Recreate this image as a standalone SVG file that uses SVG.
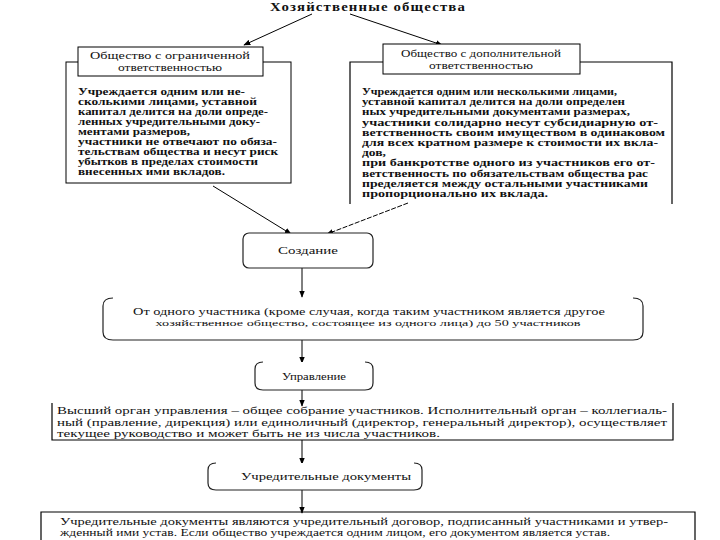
<svg xmlns="http://www.w3.org/2000/svg" width="720" height="540" viewBox="0 0 720 540">
<defs>
<marker id="ah" viewBox="0 0 10 10" refX="9" refY="5" markerWidth="7" markerHeight="7" orient="auto-start-reverse" markerUnits="userSpaceOnUse">
<path d="M0,1 L10,5 L0,9 z" fill="#000"/>
</marker>
<style>
text{font-family:"Liberation Serif","Times New Roman",serif;fill:#111}
.t{font-size:10.5px;font-weight:bold}
.s{font-size:11px}
.m{font-size:10.5px}
.h{font-size:13px;font-weight:bold;letter-spacing:1px}
.box{fill:#fff;stroke:#000;stroke-width:1}
.open{fill:none;stroke:#000;stroke-width:1.2}
.br{fill:#fff;stroke:#222;stroke-width:1.2}
.ln{stroke:#000;stroke-width:1;fill:none}
</style>
</defs>
<rect width="720" height="540" fill="#fff"/>

<g id="title">
<text class="h" x="368" y="11" text-anchor="middle" textLength="196" lengthAdjust="spacingAndGlyphs">Хозяйственные общества</text>
</g>

<g id="connectors">
<line class="ln" x1="312" y1="14" x2="244" y2="45" marker-end="url(#ah)"/>
<line class="ln" x1="350" y1="14" x2="442" y2="45" marker-end="url(#ah)"/>
<line class="ln" x1="213" y1="186" x2="291" y2="234" marker-end="url(#ah)"/>
<line class="ln" x1="408" y1="203" x2="327" y2="234" marker-end="url(#ah)" stroke-dasharray="5,1.5"/>
<line class="ln" x1="302" y1="268" x2="302" y2="297" marker-end="url(#ah)"/>
<line class="ln" x1="302" y1="340" x2="302" y2="363" marker-end="url(#ah)"/>
<line class="ln" x1="302" y1="390" x2="302" y2="406" marker-end="url(#ah)"/>
<line class="ln" x1="302" y1="440" x2="302" y2="464" marker-end="url(#ah)"/>
<line class="ln" x1="302" y1="490" x2="302" y2="513" marker-end="url(#ah)"/>
</g>

<g id="llc">
<rect class="box" x="66" y="62" width="225" height="121"/>
<rect class="box" x="78" y="47" width="185" height="29"/>
<text class="s" x="170" y="59" text-anchor="middle" textLength="160" lengthAdjust="spacingAndGlyphs">Общество с ограниченной</text>
<text class="s" x="170" y="71" text-anchor="middle" textLength="104" lengthAdjust="spacingAndGlyphs">ответственностью</text>
<text class="t" x="78" y="95" textLength="167" lengthAdjust="spacingAndGlyphs">Учреждается одним или не-</text>
<text class="t" x="78" y="105" textLength="179" lengthAdjust="spacingAndGlyphs">сколькими лицами, уставной</text>
<text class="t" x="78" y="115" textLength="190" lengthAdjust="spacingAndGlyphs">капитал делится на доли опреде-</text>
<text class="t" x="78" y="125" textLength="182" lengthAdjust="spacingAndGlyphs">ленных учредительными доку-</text>
<text class="t" x="78" y="135" textLength="112" lengthAdjust="spacingAndGlyphs">ментами размеров,</text>
<text class="t" x="78" y="145" textLength="199" lengthAdjust="spacingAndGlyphs">участники не отвечают по обяза-</text>
<text class="t" x="78" y="155" textLength="200" lengthAdjust="spacingAndGlyphs">тельствам общества и несут риск</text>
<text class="t" x="78" y="165" textLength="180" lengthAdjust="spacingAndGlyphs">убытков в пределах стоимости</text>
<text class="t" x="78" y="175" textLength="147" lengthAdjust="spacingAndGlyphs">внесенных ими вкладов.</text>
</g>

<g id="alc">
<path class="open" d="M350,204 V62 H672 V204"/>
<rect class="box" x="383" y="44" width="197" height="30"/>
<text class="s" x="481" y="57" text-anchor="middle" textLength="160" lengthAdjust="spacingAndGlyphs">Общество с дополнительной</text>
<text class="s" x="481" y="69" text-anchor="middle" textLength="104" lengthAdjust="spacingAndGlyphs">ответственностью</text>
<text class="t" x="362" y="95" textLength="255" lengthAdjust="spacingAndGlyphs">Учреждается одним или несколькими лицами,</text>
<text class="t" x="362" y="105.2" textLength="263" lengthAdjust="spacingAndGlyphs">уставной капитал делится на доли определен</text>
<text class="t" x="362" y="115.4" textLength="268" lengthAdjust="spacingAndGlyphs">ных учредительными документами размерах,</text>
<text class="t" x="362" y="125.6" textLength="296" lengthAdjust="spacingAndGlyphs">участники солидарно несут субсидиарную от-</text>
<text class="t" x="362" y="135.8" textLength="303" lengthAdjust="spacingAndGlyphs">ветственность своим имуществом в одинаковом</text>
<text class="t" x="362" y="146" textLength="296" lengthAdjust="spacingAndGlyphs">для всех кратном размере к стоимости их вкла-</text>
<text class="t" x="362" y="156.2" textLength="24" lengthAdjust="spacingAndGlyphs">дов,</text>
<text class="t" x="362" y="166.4" textLength="293" lengthAdjust="spacingAndGlyphs">при банкротстве одного из участников его от-</text>
<text class="t" x="362" y="176.6" textLength="286" lengthAdjust="spacingAndGlyphs">ветственность по обязательствам общества рас</text>
<text class="t" x="362" y="186.8" textLength="286" lengthAdjust="spacingAndGlyphs">пределяется между остальными участниками</text>
<text class="t" x="362" y="197" textLength="186" lengthAdjust="spacingAndGlyphs">пропорционально их вклада.</text>
</g>

<g id="creation">
<rect class="br" x="243" y="233" width="130" height="35" rx="6"/>
<text class="s" x="308" y="254" text-anchor="middle" textLength="60" lengthAdjust="spacingAndGlyphs">Создание</text>
</g>

<g id="members">
<path class="br" d="M113,298 Q103,298 103,306 V332 Q103,340 113,340 H633 Q643,340 643,332 V306 Q643,298 633,298"/>
<text class="m" x="369" y="315" text-anchor="middle" textLength="472" lengthAdjust="spacingAndGlyphs">От одного участника (кроме случая, когда таким участником является другое</text>
<text x="368" y="326" text-anchor="middle" style="font-size:9px" textLength="425" lengthAdjust="spacingAndGlyphs">хозяйственное общество, состоящее из одного лица) до 50 участников</text>
</g>

<g id="management">
<path class="br" d="M263,362 Q255,362 255,369 V383 Q255,390 263,390 H365 Q373,390 373,383 V369 Q373,362 365,362"/>
<text class="s" x="314" y="380" text-anchor="middle" textLength="64" lengthAdjust="spacingAndGlyphs">Управление</text>
</g>

<g id="organs">
<path class="open" d="M52,403 V440 H673 V403"/>
<text class="m" x="57" y="414" textLength="610" lengthAdjust="spacingAndGlyphs">Высший орган управления – общее собрание участников. Исполнительный орган – коллегиаль-</text>
<text class="m" x="57" y="425.5" textLength="610" lengthAdjust="spacingAndGlyphs">ный (правление, дирекция) или единоличный (директор, генеральный директор), осуществляет</text>
<text class="m" x="57" y="437" textLength="383" lengthAdjust="spacingAndGlyphs">текущее руководство и может быть не из числа участников.</text>
</g>

<g id="documents">
<path class="br" d="M216,463 Q208,463 208,470 V483 Q208,490 216,490 H414 Q422,490 422,483 V470 Q422,463 414,463"/>
<text class="s" x="326" y="480" text-anchor="middle" textLength="170" lengthAdjust="spacingAndGlyphs">Учредительные документы</text>
</g>

<g id="docs-text">
<path class="open" d="M41,541 V512 H695 V541"/>
<text class="m" x="60" y="525" textLength="608" lengthAdjust="spacingAndGlyphs">Учредительные документы являются учредительный договор, подписанный участниками и утвер-</text>
<text class="m" x="60" y="536" textLength="550" lengthAdjust="spacingAndGlyphs">жденный ими устав. Если общество учреждается одним лицом, его документом является устав.</text>
</g>
</svg>
